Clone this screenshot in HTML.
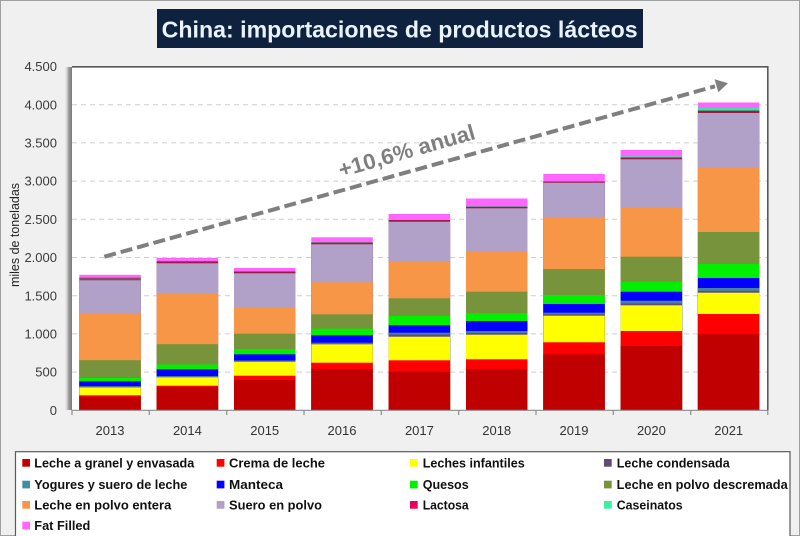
<!DOCTYPE html>
<html><head><meta charset="utf-8"><style>
html,body{margin:0;padding:0;background:#f0f0f0;}
svg{display:block;}
text{font-family:"Liberation Sans",Arial,sans-serif;}
</style></head><body>
<svg width="800" height="536" viewBox="0 0 800 536" xmlns="http://www.w3.org/2000/svg">
<defs>
<linearGradient id="sh" x1="0" y1="0" x2="1" y2="0">
<stop offset="0" stop-color="#f0f0f0" stop-opacity="0"/>
<stop offset="0.6" stop-color="#9a9a9a"/>
<stop offset="1" stop-color="#7a7a7a"/>
</linearGradient>
</defs>
<rect x="0" y="0" width="800" height="536" fill="#f0f0f0"/>
<rect x="0.5" y="0.5" width="799" height="535" fill="none" stroke="#a0a0a0" stroke-width="1"/>

<!-- title -->
<rect x="157" y="9" width="486" height="39" fill="#0e213e"/>
<text x="161.7" y="37.3" font-size="23" font-weight="bold" fill="#eaf3fb" textLength="476" lengthAdjust="spacingAndGlyphs">China: importaciones de productos lácteos</text>

<!-- plot area -->
<rect x="64" y="67" width="8" height="343" fill="url(#sh)"/>
<rect x="72" y="66.5" width="696" height="343.8" fill="#ffffff"/>
<g stroke="#cfcfcf" stroke-width="1" stroke-dasharray="5,4">
<line x1="72" y1="372.1" x2="768" y2="372.1"/>
<line x1="72" y1="333.9" x2="768" y2="333.9"/>
<line x1="72" y1="295.7" x2="768" y2="295.7"/>
<line x1="72" y1="257.5" x2="768" y2="257.5"/>
<line x1="72" y1="219.3" x2="768" y2="219.3"/>
<line x1="72" y1="181.1" x2="768" y2="181.1"/>
<line x1="72" y1="142.9" x2="768" y2="142.9"/>
<line x1="72" y1="104.7" x2="768" y2="104.7"/>
</g>
<polyline points="72,66.8 767.8,66.8 767.8,410.3" fill="none" stroke="#595959" stroke-width="1.6"/>

<!-- bars: drawn top series first, each extending to base -->
<g>
<!-- 2013 -->
<g transform="translate(79.3,0)">
<rect y="274.8" width="61.5" height="135.5" fill="#ff66ff"/>
<rect y="277.9" width="61.5" height="132.4" fill="#33e8a0"/>
<rect y="277.7" width="61.5" height="132.6" fill="#8e4a62"/>
<rect y="280.3" width="61.5" height="130.0" fill="#b1a0c7"/>
<rect y="313.3" width="61.5" height="97.0" fill="#f79646"/>
<rect y="360.2" width="61.5" height="50.1" fill="#77933c"/>
<rect y="378.0" width="61.5" height="32.3" fill="#00f000"/>
<rect y="381.3" width="61.5" height="29.0" fill="#0000ff"/>
<rect y="386.0" width="61.5" height="24.3" fill="#4a7fa0"/>
<rect y="386.7" width="61.5" height="23.6" fill="#604a7b"/>
<rect y="387.4" width="61.5" height="22.9" fill="#ffff00"/>
<rect y="395.3" width="61.5" height="15.0" fill="#ff0000"/>
<rect y="396.7" width="61.5" height="13.6" fill="#c00000"/>
</g>
<!-- 2014 -->
<g transform="translate(156.6,0)">
<rect y="258.0" width="61.5" height="152.3" fill="#ff66ff"/>
<rect y="261.0" width="61.5" height="149.3" fill="#33e8a0"/>
<rect y="261.3" width="61.5" height="149.0" fill="#9a1a48"/>
<rect y="263.3" width="61.5" height="147.0" fill="#b1a0c7"/>
<rect y="293.8" width="61.5" height="116.5" fill="#f79646"/>
<rect y="344.2" width="61.5" height="66.1" fill="#77933c"/>
<rect y="364.5" width="61.5" height="45.8" fill="#00f000"/>
<rect y="369.3" width="61.5" height="41.0" fill="#0000ff"/>
<rect y="376.0" width="61.5" height="34.3" fill="#4a7fa0"/>
<rect y="376.8" width="61.5" height="33.5" fill="#604a7b"/>
<rect y="377.3" width="61.5" height="33.0" fill="#ffff00"/>
<rect y="385.7" width="61.5" height="24.6" fill="#ff0000"/>
<rect y="386.7" width="61.5" height="23.6" fill="#c00000"/>
</g>
<!-- 2015 -->
<g transform="translate(234.0,0)">
<rect y="268.0" width="61.5" height="142.3" fill="#ff66ff"/>
<rect y="271.2" width="61.5" height="139.1" fill="#33e8a0"/>
<rect y="271.5" width="61.5" height="138.8" fill="#9a1a48"/>
<rect y="273.3" width="61.5" height="137.0" fill="#b1a0c7"/>
<rect y="307.3" width="61.5" height="103.0" fill="#f79646"/>
<rect y="333.7" width="61.5" height="76.6" fill="#77933c"/>
<rect y="349.0" width="61.5" height="61.3" fill="#00f000"/>
<rect y="354.3" width="61.5" height="56.0" fill="#0000ff"/>
<rect y="360.5" width="61.5" height="49.8" fill="#4a7fa0"/>
<rect y="361.2" width="61.5" height="49.1" fill="#604a7b"/>
<rect y="361.7" width="61.5" height="48.6" fill="#ffff00"/>
<rect y="375.7" width="61.5" height="34.6" fill="#ff0000"/>
<rect y="380.0" width="61.5" height="30.3" fill="#c00000"/>
</g>
<!-- 2016 -->
<g transform="translate(311.3,0)">
<rect y="237.3" width="61.5" height="173.0" fill="#ff66ff"/>
<rect y="242.2" width="61.5" height="168.1" fill="#33e8a0"/>
<rect y="242.5" width="61.5" height="167.8" fill="#9a1a48"/>
<rect y="244.3" width="61.5" height="166.0" fill="#b1a0c7"/>
<rect y="282.3" width="61.5" height="128.0" fill="#f79646"/>
<rect y="314.3" width="61.5" height="96.0" fill="#77933c"/>
<rect y="328.7" width="61.5" height="81.6" fill="#00f000"/>
<rect y="335.3" width="61.5" height="75.0" fill="#0000ff"/>
<rect y="342.7" width="61.5" height="67.6" fill="#4a7fa0"/>
<rect y="343.6" width="61.5" height="66.7" fill="#604a7b"/>
<rect y="344.3" width="61.5" height="66.0" fill="#ffff00"/>
<rect y="362.7" width="61.5" height="47.6" fill="#ff0000"/>
<rect y="369.0" width="61.5" height="41.3" fill="#c00000"/>
</g>
<!-- 2017 -->
<g transform="translate(388.6,0)">
<rect y="214.0" width="61.5" height="196.3" fill="#ff66ff"/>
<rect y="219.6" width="61.5" height="190.7" fill="#33e8a0"/>
<rect y="220.0" width="61.5" height="190.3" fill="#9a1a48"/>
<rect y="221.7" width="61.5" height="188.6" fill="#b1a0c7"/>
<rect y="261.7" width="61.5" height="148.6" fill="#f79646"/>
<rect y="298.3" width="61.5" height="112.0" fill="#77933c"/>
<rect y="316.0" width="61.5" height="94.3" fill="#00f000"/>
<rect y="325.3" width="61.5" height="85.0" fill="#0000ff"/>
<rect y="332.7" width="61.5" height="77.6" fill="#4a7fa0"/>
<rect y="334.5" width="61.5" height="75.8" fill="#604a7b"/>
<rect y="336.7" width="61.5" height="73.6" fill="#ffff00"/>
<rect y="360.3" width="61.5" height="50.0" fill="#ff0000"/>
<rect y="371.7" width="61.5" height="38.6" fill="#c00000"/>
</g>
<!-- 2018 -->
<g transform="translate(466.0,0)">
<rect y="198.5" width="61.5" height="211.8" fill="#ff66ff"/>
<rect y="206.3" width="61.5" height="204.0" fill="#33e8a0"/>
<rect y="206.7" width="61.5" height="203.6" fill="#9a1a48"/>
<rect y="208.3" width="61.5" height="202.0" fill="#b1a0c7"/>
<rect y="251.0" width="61.5" height="159.3" fill="#f79646"/>
<rect y="291.7" width="61.5" height="118.6" fill="#77933c"/>
<rect y="313.3" width="61.5" height="97.0" fill="#00f000"/>
<rect y="321.0" width="61.5" height="89.3" fill="#0000ff"/>
<rect y="331.0" width="61.5" height="79.3" fill="#4a7fa0"/>
<rect y="333.0" width="61.5" height="77.3" fill="#604a7b"/>
<rect y="334.7" width="61.5" height="75.6" fill="#ffff00"/>
<rect y="359.3" width="61.5" height="51.0" fill="#ff0000"/>
<rect y="369.0" width="61.5" height="41.3" fill="#c00000"/>
</g>
<!-- 2019 -->
<g transform="translate(543.3,0)">
<rect y="174.0" width="61.5" height="236.3" fill="#ff66ff"/>
<rect y="181.0" width="61.5" height="229.3" fill="#33e8a0"/>
<rect y="181.5" width="61.5" height="228.8" fill="#9a1a48"/>
<rect y="182.7" width="61.5" height="227.6" fill="#b1a0c7"/>
<rect y="217.3" width="61.5" height="193.0" fill="#f79646"/>
<rect y="269.0" width="61.5" height="141.3" fill="#77933c"/>
<rect y="295.0" width="61.5" height="115.3" fill="#00f000"/>
<rect y="304.0" width="61.5" height="106.3" fill="#0000ff"/>
<rect y="312.7" width="61.5" height="97.6" fill="#4a7fa0"/>
<rect y="314.3" width="61.5" height="96.0" fill="#604a7b"/>
<rect y="315.7" width="61.5" height="94.6" fill="#ffff00"/>
<rect y="342.3" width="61.5" height="68.0" fill="#ff0000"/>
<rect y="354.3" width="61.5" height="56.0" fill="#c00000"/>
</g>
<!-- 2020 -->
<g transform="translate(620.6,0)">
<rect y="150.0" width="61.5" height="260.3" fill="#ff66ff"/>
<rect y="156.3" width="61.5" height="254.0" fill="#33e8a0"/>
<rect y="157.5" width="61.5" height="252.8" fill="#9a1a48"/>
<rect y="159.3" width="61.5" height="251.0" fill="#b1a0c7"/>
<rect y="207.3" width="61.5" height="203.0" fill="#f79646"/>
<rect y="256.7" width="61.5" height="153.6" fill="#77933c"/>
<rect y="281.7" width="61.5" height="128.6" fill="#00f000"/>
<rect y="291.7" width="61.5" height="118.6" fill="#0000ff"/>
<rect y="300.7" width="61.5" height="109.6" fill="#4a7fa0"/>
<rect y="303.5" width="61.5" height="106.8" fill="#604a7b"/>
<rect y="305.3" width="61.5" height="105.0" fill="#ffff00"/>
<rect y="331.0" width="61.5" height="79.3" fill="#ff0000"/>
<rect y="346.0" width="61.5" height="64.3" fill="#c00000"/>
</g>
<!-- 2021 -->
<g transform="translate(697.9,0)">
<rect y="102.5" width="61.5" height="307.8" fill="#ff66ff"/>
<rect y="107.8" width="61.5" height="302.5" fill="#33e8a0"/>
<rect y="110.6" width="61.5" height="299.7" fill="#9a1a48"/>
<rect y="113.0" width="61.5" height="297.3" fill="#b1a0c7"/>
<rect y="167.7" width="61.5" height="242.6" fill="#f79646"/>
<rect y="232.0" width="61.5" height="178.3" fill="#77933c"/>
<rect y="264.0" width="61.5" height="146.3" fill="#00f000"/>
<rect y="278.0" width="61.5" height="132.3" fill="#0000ff"/>
<rect y="288.0" width="61.5" height="122.3" fill="#4a7fa0"/>
<rect y="291.0" width="61.5" height="119.3" fill="#604a7b"/>
<rect y="292.7" width="61.5" height="117.6" fill="#ffff00"/>
<rect y="314.0" width="61.5" height="96.3" fill="#ff0000"/>
<rect y="334.3" width="61.5" height="76.0" fill="#c00000"/>
</g>
</g>

<!-- x axis -->
<line x1="72" y1="410.3" x2="768" y2="410.3" stroke="#8c8c8c" stroke-width="1.2"/>
<g stroke="#8c8c8c" stroke-width="1.2">
<line x1="72" y1="410" x2="72" y2="415"/>
<line x1="149.3" y1="410" x2="149.3" y2="415"/>
<line x1="226.7" y1="410" x2="226.7" y2="415"/>
<line x1="304" y1="410" x2="304" y2="415"/>
<line x1="381.3" y1="410" x2="381.3" y2="415"/>
<line x1="458.7" y1="410" x2="458.7" y2="415"/>
<line x1="536" y1="410" x2="536" y2="415"/>
<line x1="613.3" y1="410" x2="613.3" y2="415"/>
<line x1="690.7" y1="410" x2="690.7" y2="415"/>
<line x1="767.8" y1="410" x2="767.8" y2="415"/>
</g>
<g font-size="13" fill="#333" text-anchor="middle">
<text x="110" y="435">2013</text>
<text x="187.4" y="435">2014</text>
<text x="264.7" y="435">2015</text>
<text x="342" y="435">2016</text>
<text x="419.4" y="435">2017</text>
<text x="496.7" y="435">2018</text>
<text x="574" y="435">2019</text>
<text x="651.4" y="435">2020</text>
<text x="728.7" y="435">2021</text>
</g>

<!-- y axis labels -->
<g font-size="13" fill="#3a3a3a" text-anchor="end">
<text x="57" y="414.9">0</text>
<text x="57" y="376.7">500</text>
<text x="57" y="338.5">1.000</text>
<text x="57" y="300.3">1.500</text>
<text x="57" y="262.1">2.000</text>
<text x="57" y="223.9">2.500</text>
<text x="57" y="185.7">3.000</text>
<text x="57" y="147.5">3.500</text>
<text x="57" y="109.3">4.000</text>
<text x="57" y="71.1">4.500</text>
</g>
<text transform="translate(18.8,235) rotate(-90)" font-size="12.5" fill="#222" text-anchor="middle" textLength="104" lengthAdjust="spacingAndGlyphs">miles de toneladas</text>

<!-- trend arrow -->
<line x1="104.3" y1="256.7" x2="715" y2="86.3" stroke="#7f7f7f" stroke-width="4" stroke-dasharray="12,5"/>
<polygon points="728,83.3 718.3,92.3 714.6,79.2" fill="#7f7f7f"/>
<text transform="translate(341,177.5) rotate(-16)" font-size="22" font-weight="bold" fill="#7f7f7f" textLength="141" lengthAdjust="spacingAndGlyphs">+10,6% anual</text>

<!-- legend -->
<rect x="15.5" y="451.7" width="774.5" height="90" fill="#ffffff" stroke="#5a5a5a" stroke-width="1.2"/>
<g>
<rect x="22.3" y="459" width="7.7" height="7.7" fill="#c00000"/>
<rect x="216.7" y="459" width="7.7" height="7.7" fill="#ff0000"/>
<rect x="410" y="459" width="7.7" height="7.7" fill="#ffff00"/>
<rect x="604" y="459" width="7.7" height="7.7" fill="#604a7b"/>
<rect x="22.3" y="480.7" width="7.7" height="7.7" fill="#3f8fa6"/>
<rect x="216.7" y="480.7" width="7.7" height="7.7" fill="#0000ff"/>
<rect x="410" y="480.7" width="7.7" height="7.7" fill="#00f000"/>
<rect x="604" y="480.7" width="7.7" height="7.7" fill="#77933c"/>
<rect x="22.3" y="501" width="7.7" height="7.7" fill="#f79646"/>
<rect x="216.7" y="501" width="7.7" height="7.7" fill="#b1a0c7"/>
<rect x="410" y="501" width="7.7" height="7.7" fill="#e8005a"/>
<rect x="604" y="501" width="7.7" height="7.7" fill="#3cf0a0"/>
<rect x="22.3" y="521.7" width="7.7" height="7.7" fill="#ff66ff"/>
</g>
<g font-size="12.6" font-weight="bold" fill="#111" lengthAdjust="spacingAndGlyphs">
<text x="34.3" y="467.3" textLength="160" lengthAdjust="spacingAndGlyphs">Leche a granel y envasada</text>
<text x="229" y="467.3" textLength="96" lengthAdjust="spacingAndGlyphs">Crema de leche</text>
<text x="422.7" y="467.3" textLength="102" lengthAdjust="spacingAndGlyphs">Leches infantiles</text>
<text x="616.7" y="467.3" textLength="113" lengthAdjust="spacingAndGlyphs">Leche condensada</text>
<text x="34.3" y="489" textLength="153" lengthAdjust="spacingAndGlyphs">Yogures y suero de leche</text>
<text x="229" y="489" textLength="54" lengthAdjust="spacingAndGlyphs">Manteca</text>
<text x="422.7" y="489" textLength="46" lengthAdjust="spacingAndGlyphs">Quesos</text>
<text x="616.7" y="489" textLength="171" lengthAdjust="spacingAndGlyphs">Leche en polvo descremada</text>
<text x="34.3" y="509.3" textLength="137" lengthAdjust="spacingAndGlyphs">Leche en polvo entera</text>
<text x="229" y="509.3" textLength="93" lengthAdjust="spacingAndGlyphs">Suero en polvo</text>
<text x="422.7" y="509.3" textLength="46" lengthAdjust="spacingAndGlyphs">Lactosa</text>
<text x="616.7" y="509.3" textLength="66" lengthAdjust="spacingAndGlyphs">Caseinatos</text>
<text x="34.3" y="530" textLength="56" lengthAdjust="spacingAndGlyphs">Fat Filled</text>
</g>
</svg>
</body></html>
